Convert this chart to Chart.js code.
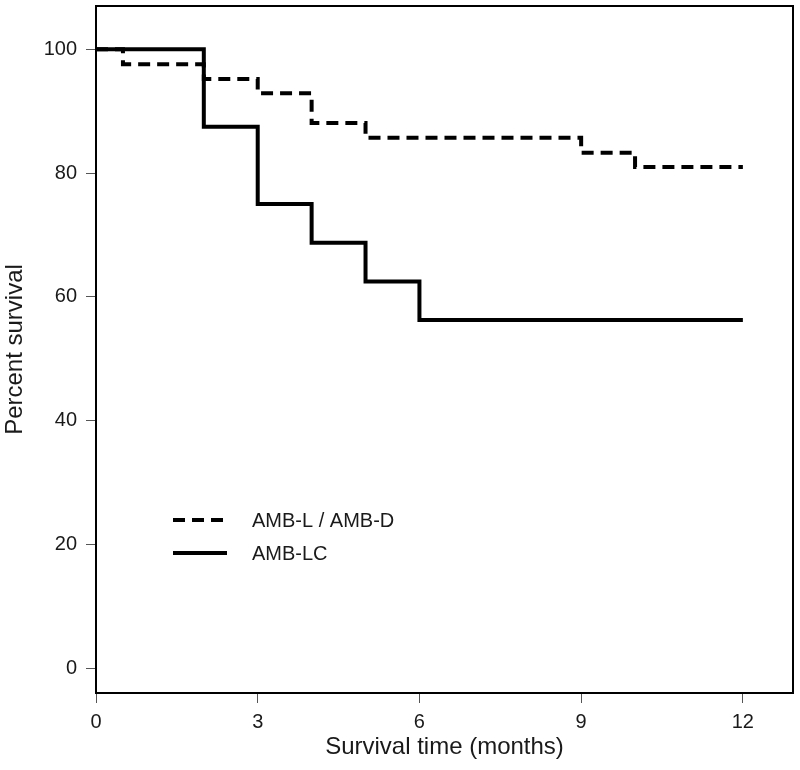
<!DOCTYPE html>
<html>
<head>
<meta charset="utf-8">
<title>Survival</title>
<script src="https://cdn.jsdelivr.net/npm/chart.js@4/dist/chart.umd.min.js"></script>
<style>
  html, body { margin: 0; padding: 0; background: #fff; }
  canvas { display: block; }
</style>
</head>
<body>
<canvas id="survivalChart" width="800" height="770"></canvas>
<script>
// Kaplan-Meier steps
const seriesNames = ['AMB-L / AMB-D', 'AMB-LC'];
const ldTimes = [0, 0.5, 2, 3, 4, 5, 9, 10, 12];
const ldSurvival = [100, 97.6, 95.2, 92.9, 88.1, 85.7, 83.3, 81.0, 81.0];
const lcTimes = [0, 2, 3, 4, 5, 6, 12];
const lcSurvival = [100, 87.5, 75, 68.75, 62.5, 56.25, 56.25];
const xTicks = [0, 3, 6, 9, 12];
const yTicks = [0, 20, 40, 60, 80, 100];

const FONT = 'Liberation Sans, Arial, sans-serif';

function toPoints(times, values) {
    return times.map((t, i) => ({ x: t, y: values[i] }));
}

// box around the plot + legend inside
const boxAndLegend = {
    id: 'boxAndLegend',
    afterDraw(chart) {
        const ctx = chart.ctx;
        const a = chart.chartArea;
        ctx.save();
        ctx.strokeStyle = '#000';
        ctx.lineWidth = 2;
        ctx.strokeRect(a.left, a.top, a.right - a.left, a.bottom - a.top);

        // legend
        const x0 = a.left + 77, x1 = a.left + 131;
        const rows = [520, 553];
        ctx.font = '20px ' + FONT;
        ctx.textBaseline = 'middle';
        ctx.fillStyle = '#1a1a1a';
        chart.data.datasets.forEach((ds, i) => {
            ctx.beginPath();
            ctx.lineWidth = ds.borderWidth;
            ctx.strokeStyle = ds.borderColor;
            ctx.setLineDash(ds.borderDash || []);
            ctx.lineCap = 'butt';
            ctx.moveTo(x0, rows[i]);
            ctx.lineTo(x1, rows[i]);
            ctx.stroke();
            ctx.setLineDash([]);
            ctx.fillText(ds.label, a.left + 156, rows[i] + 1);
        });
        ctx.restore();
    }
};

const ctx = document.getElementById('survivalChart');
new Chart(ctx, {
    type: 'line',
    data: {
        datasets: [{
            label: seriesNames[0],
            data: toPoints(ldTimes, ldSurvival),
            borderColor: '#000',
            borderWidth: 4,
            borderDash: [12, 7],
            borderCapStyle: 'butt',
            borderJoinStyle: 'miter',
            stepped: 'before',
            pointRadius: 0,
            fill: false
        }, {
            label: seriesNames[1],
            data: toPoints(lcTimes, lcSurvival),
            borderColor: '#000',
            borderWidth: 4,
            borderCapStyle: 'butt',
            borderJoinStyle: 'miter',
            stepped: 'before',
            pointRadius: 0,
            fill: false
        }]
    },
    options: {
        responsive: false,
        animation: false,
        layout: { padding: { top: 6, right: 7, bottom: 0, left: 0 } },
        plugins: {
            legend: { display: false },
            tooltip: { enabled: false }
        },
        scales: {
            x: {
                type: 'linear',
                min: 0,
                max: 12.93,
                afterBuildTicks: (scale) => { scale.ticks = xTicks.map(v => ({ value: v })); },
                afterFit: (scale) => {
                    scale.height = 77;
                    scale.paddingLeft = 0;
                    scale.paddingRight = 0;
                },
                grid: { drawOnChartArea: false, drawTicks: true, tickLength: 10, color: '#555', lineWidth: 1 },
                border: { display: false },
                ticks: { color: '#1a1a1a', padding: 7, maxRotation: 0, font: { family: FONT, size: 20 } },
                title: {
                    display: true,
                    text: 'Survival time (months)',
                    color: '#1a1a1a',
                    padding: { top: 0, bottom: 8 },
                    font: { family: FONT, size: 24 }
                }
            },
            y: {
                type: 'linear',
                min: -4,
                max: 107,
                afterBuildTicks: (scale) => { scale.ticks = yTicks.map(v => ({ value: v })); },
                afterFit: (scale) => {
                    scale.width = 96;
                    scale.paddingTop = 0;
                    scale.paddingBottom = 0;
                },
                grid: { drawOnChartArea: false, drawTicks: true, tickLength: 10, color: '#555', lineWidth: 1 },
                border: { display: false },
                ticks: { color: '#1a1a1a', padding: 9, font: { family: FONT, size: 20 } },
                title: {
                    display: true,
                    text: 'Percent survival',
                    color: '#1a1a1a',
                    padding: { top: 1, bottom: 0 },
                    font: { family: FONT, size: 24 }
                }
            }
        }
    },
    plugins: [boxAndLegend]
});
</script>
</body>
</html>
